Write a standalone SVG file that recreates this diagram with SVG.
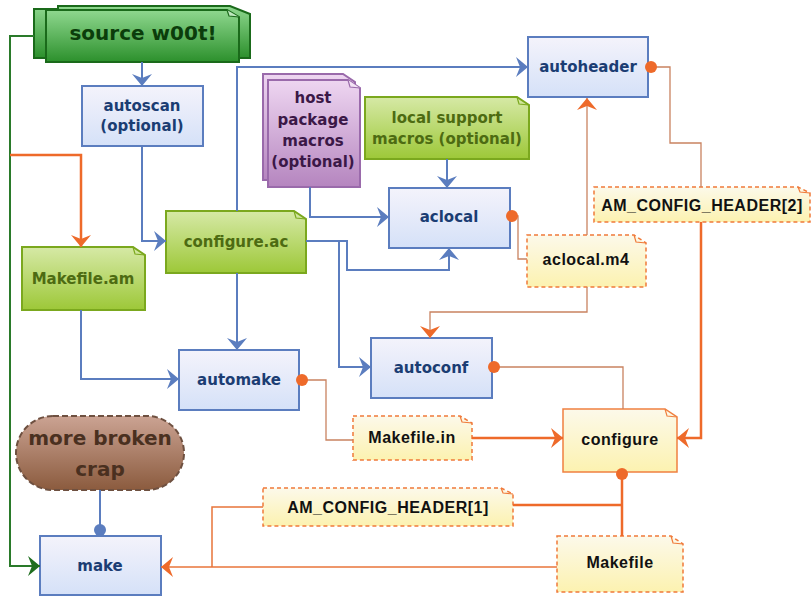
<svg xmlns="http://www.w3.org/2000/svg" width="811" height="597" viewBox="0 0 811 597">
<defs>
<linearGradient id="gBlue" x1="0" y1="0" x2="0" y2="1"><stop offset="0" stop-color="#f4f3fb"/><stop offset="1" stop-color="#d5e1f8"/></linearGradient>
<linearGradient id="gGreen" x1="0" y1="0" x2="0" y2="1"><stop offset="0" stop-color="#d6e9a6"/><stop offset="1" stop-color="#9dc838"/></linearGradient>
<linearGradient id="gYellow" x1="0" y1="0" x2="0" y2="1"><stop offset="0" stop-color="#fcf9ea"/><stop offset="1" stop-color="#fcf2b0"/></linearGradient>
<linearGradient id="gPurple" x1="0" y1="0" x2="0" y2="1"><stop offset="0" stop-color="#eed6f1"/><stop offset="1" stop-color="#b585bf"/></linearGradient>
<linearGradient id="gBrown" x1="0" y1="0" x2="0" y2="1"><stop offset="0" stop-color="#cba393"/><stop offset="1" stop-color="#8b5b3e"/></linearGradient>
<linearGradient id="gSrc" x1="0" y1="0" x2="0" y2="1"><stop offset="0" stop-color="#8fd88f"/><stop offset="1" stop-color="#2c902c"/></linearGradient>
<marker id="aB" markerWidth="14" markerHeight="22" viewBox="0 -11 14 22" refX="12" refY="0" orient="auto" markerUnits="userSpaceOnUse"><path d="M0,-10 L12,0 L0,10 L4,0 z" fill="#5b7dbf"/></marker>
<marker id="aO" markerWidth="14" markerHeight="22" viewBox="0 -11 14 22" refX="12" refY="0" orient="auto" markerUnits="userSpaceOnUse"><path d="M0,-10 L12,0 L0,10 L4,0 z" fill="#ee6a2a"/></marker>
<marker id="aG" markerWidth="14" markerHeight="22" viewBox="0 -11 14 22" refX="12" refY="0" orient="auto" markerUnits="userSpaceOnUse"><path d="M0,-10 L12,0 L0,10 L4,0 z" fill="#1f6e1f"/></marker>
<marker id="dO" markerWidth="14" markerHeight="14" viewBox="-7 -7 14 14" refX="0" refY="0" orient="auto" markerUnits="userSpaceOnUse"><circle r="6" fill="#ee6a2a"/></marker>
<marker id="dB" markerWidth="14" markerHeight="14" viewBox="-7 -7 14 14" refX="0" refY="0" orient="auto" markerUnits="userSpaceOnUse"><circle r="6" fill="#5b7dbf"/></marker>
</defs>
<style>
.bx{fill:url(#gBlue);stroke:#5b7dbf;stroke-width:2}
.gn{fill:url(#gGreen);stroke:#7ba81e;stroke-width:2}
.yn{fill:url(#gYellow);stroke:#f07a3a;stroke-width:1.5;stroke-dasharray:4 3}
.ys{fill:url(#gYellow);stroke:#f08040;stroke-width:1.5}
.fold{fill:none;stroke-width:1.2}
.tb{font-family:"DejaVu Sans",sans-serif;font-weight:bold;font-size:15px;fill:#1b3d73;text-anchor:middle}
.tg{font-family:"DejaVu Sans",sans-serif;font-weight:bold;font-size:15px;fill:#4d6b12;text-anchor:middle}
.tk{font-family:"Liberation Sans",Arial,sans-serif;font-weight:bold;font-size:16px;fill:#111;text-anchor:middle;letter-spacing:0.5px}
.tp{font-family:"DejaVu Sans",sans-serif;font-weight:bold;font-size:15px;fill:#3b1847;text-anchor:middle}
.cb{fill:none;stroke:#5b7dbf;stroke-width:2}
.co{fill:none;stroke:#ee6a2a;stroke-width:2.5}
.ct{fill:none;stroke:#c98360;stroke-width:1.3}
.cg{fill:none;stroke:#2a7a2a;stroke-width:2}
</style>

<g id="source">
<path d="M34,9 H58 V6 H230 L250,14 V58 H34 Z" fill="url(#gSrc)" stroke="#1a6a1a" stroke-width="2"/>
<path d="M46,10 H227 L239,17 V62 H46 Z" fill="url(#gSrc)" stroke="#1a6a1a" stroke-width="2"/>
<path d="M227,10 L229,16 L239,17" fill="#bfe8bf" stroke="#1a6a1a" stroke-width="1.2"/>
<text x="143" y="40" style="font-family:'DejaVu Sans',sans-serif;font-weight:bold;font-size:20px;fill:#0b3d0b;text-anchor:middle">source w00t!</text>
</g>

<g id="autoscan">
<rect class="bx" x="82" y="86" width="121" height="60"/>
<text class="tb" x="142" y="111">autoscan</text>
<text class="tb" x="142" y="131">(optional)</text>
</g>

<g id="autoheader">
<rect class="bx" x="528" y="37" width="120" height="60"/>
<text class="tb" x="588" y="72">autoheader</text>
</g>

<g id="host">
<path d="M263,74 H343 L355,82 V180 H263 Z" fill="url(#gPurple)" stroke="#9a6aab" stroke-width="2"/>
<path d="M268,80 H348 L360,88 V187 H268 Z" fill="url(#gPurple)" stroke="#9a6aab" stroke-width="2"/>
<path d="M348,80 L350,87 L360,88" fill="#f3e4f5" stroke="#9a6aab" stroke-width="1.2"/>
<text class="tp" x="313" y="103">host</text>
<text class="tp" x="313" y="125">package</text>
<text class="tp" x="313" y="146">macros</text>
<text class="tp" x="313" y="167">(optional)</text>
</g>

<g id="localsupport">
<path class="gn" d="M365,97 H517 L529,105 V159 H365 Z"/>
<path class="fold" d="M517,97 L519,104 L529,105" stroke="#7ba81e" fill="#eaf4d0"/>
<text class="tg" x="447" y="123">local support</text>
<text class="tg" x="447" y="144">macros (optional)</text>
</g>

<g id="configureac">
<path class="gn" d="M166,211 H294 L306,219 V273 H166 Z"/>
<path class="fold" d="M294,211 L296,218 L306,219" stroke="#7ba81e" fill="#eaf4d0"/>
<text class="tg" x="236" y="247">configure.ac</text>
</g>

<g id="makefileam">
<path class="gn" d="M22,247 H133 L145,255 V310 H22 Z"/>
<path class="fold" d="M133,247 L135,254 L145,255" stroke="#7ba81e" fill="#eaf4d0"/>
<text class="tg" x="83" y="284">Makefile.am</text>
</g>

<g id="aclocal">
<rect class="bx" x="389" y="188" width="121" height="60"/>
<text class="tb" x="449" y="222">aclocal</text>
</g>

<g id="aclocalm4">
<path class="yn" d="M527,235 H634 L646,243 V287 H527 Z"/>
<path class="fold" d="M634,235 L636,242 L646,243" stroke="#f07a3a"/>
<text class="tk" x="586" y="265">aclocal.m4</text>
</g>

<g id="amconfig2">
<path class="yn" d="M594,187 H798 L810,193 V222 H594 Z"/>
<path class="fold" d="M798,187 L800,192 L810,193" stroke="#f07a3a"/>
<text class="tk" x="702" y="211">AM_CONFIG_HEADER[2]</text>
</g>

<g id="automake">
<rect class="bx" x="179" y="350" width="120" height="60"/>
<text class="tb" x="239" y="385">automake</text>
</g>

<g id="autoconf">
<rect class="bx" x="371" y="338" width="121" height="60"/>
<text class="tb" x="431" y="373">autoconf</text>
</g>

<g id="makefilein">
<path class="yn" d="M353,416 H460 L472,423 V460 H353 Z"/>
<path class="fold" d="M460,416 L462,422 L472,423" stroke="#f07a3a"/>
<text class="tk" x="412" y="443">Makefile.in</text>
</g>

<g id="configure">
<path class="ys" d="M563,409 H665 L677,417 V472 H563 Z"/>
<path class="fold" d="M665,409 L667,416 L677,417" stroke="#f08040"/>
<text class="tk" x="620" y="445">configure</text>
</g>

<g id="crap">
<rect x="16" y="416" width="168" height="74" rx="37" ry="37" fill="url(#gBrown)" stroke="#6e5040" stroke-width="2" stroke-dasharray="6 3"/>
<text x="100" y="445" style="font-family:'DejaVu Sans',sans-serif;font-weight:bold;font-size:20px;fill:#4a3020;text-anchor:middle">more broken</text>
<text x="100" y="476" style="font-family:'DejaVu Sans',sans-serif;font-weight:bold;font-size:20px;fill:#4a3020;text-anchor:middle">crap</text>
</g>

<g id="amconfig1">
<path class="yn" d="M263,488 H501 L513,494 V526 H263 Z"/>
<path class="fold" d="M501,488 L503,493 L513,494" stroke="#f07a3a"/>
<text class="tk" x="388" y="513">AM_CONFIG_HEADER[1]</text>
</g>

<g id="makefile">
<path class="yn" d="M557,536 H671 L683,544 V592 H557 Z"/>
<path class="fold" d="M671,536 L673,543 L683,544" stroke="#f07a3a"/>
<text class="tk" x="620" y="568">Makefile</text>
</g>

<g id="make">
<rect class="bx" x="40" y="536" width="121" height="59"/>
<text class="tb" x="100" y="571">make</text>
</g>

<g id="connectors">
<path class="cb" d="M142,62 V86" marker-end="url(#aB)"/>
<path class="cb" d="M142,146 V241 H166" marker-end="url(#aB)"/>
<path class="cb" d="M237,211 V67 H528" marker-end="url(#aB)"/>
<path class="cb" d="M237,273 V350" marker-end="url(#aB)"/>
<path class="cb" d="M81,310 V379 H179" marker-end="url(#aB)"/>
<path class="cb" d="M310,187 V217 H389" marker-end="url(#aB)"/>
<path class="cb" d="M447,159 V188" marker-end="url(#aB)"/>
<path class="cb" d="M306,241 H347 V270 H449 V248" marker-end="url(#aB)"/>
<path class="cb" d="M339,241 V367 H371" marker-end="url(#aB)"/>
<path class="cb" d="M100,490 V530" marker-end="url(#dB)"/>
<path class="cg" d="M34,36 H10 V566 H40" marker-end="url(#aG)"/>
<path class="co" d="M10,155 H81 V247" marker-end="url(#aO)"/>
<path class="co" d="M472,438 H563" marker-end="url(#aO)"/>
<path class="co" d="M701,222 V438 H677" marker-end="url(#aO)"/>
<path class="co" d="M622,536 V474" marker-end="url(#dO)"/>
<path class="co" d="M622,505 H513"/>
<path class="ct" d="M527,259 H518 V216 H512" marker-end="url(#dO)"/>
<path class="ct" d="M587,235 V98" marker-end="url(#aO)"/>
<path class="ct" d="M587,287 V312 H430 V338" marker-end="url(#aO)"/>
<path class="ct" d="M701,187 V143 H670 V67 H651" marker-end="url(#dO)"/>
<path class="ct" d="M623,409 V367 H494" marker-end="url(#dO)"/>
<path class="ct" d="M353,440 H326 V380 H302" marker-end="url(#dO)"/>
<path class="ct" d="M557,567 H161" marker-end="url(#aO)" style="stroke:#e8743a;stroke-width:1.5"/>
<path class="ct" d="M263,507 H212 V567" style="stroke:#e8743a;stroke-width:1.5"/>
</g>
</svg>
